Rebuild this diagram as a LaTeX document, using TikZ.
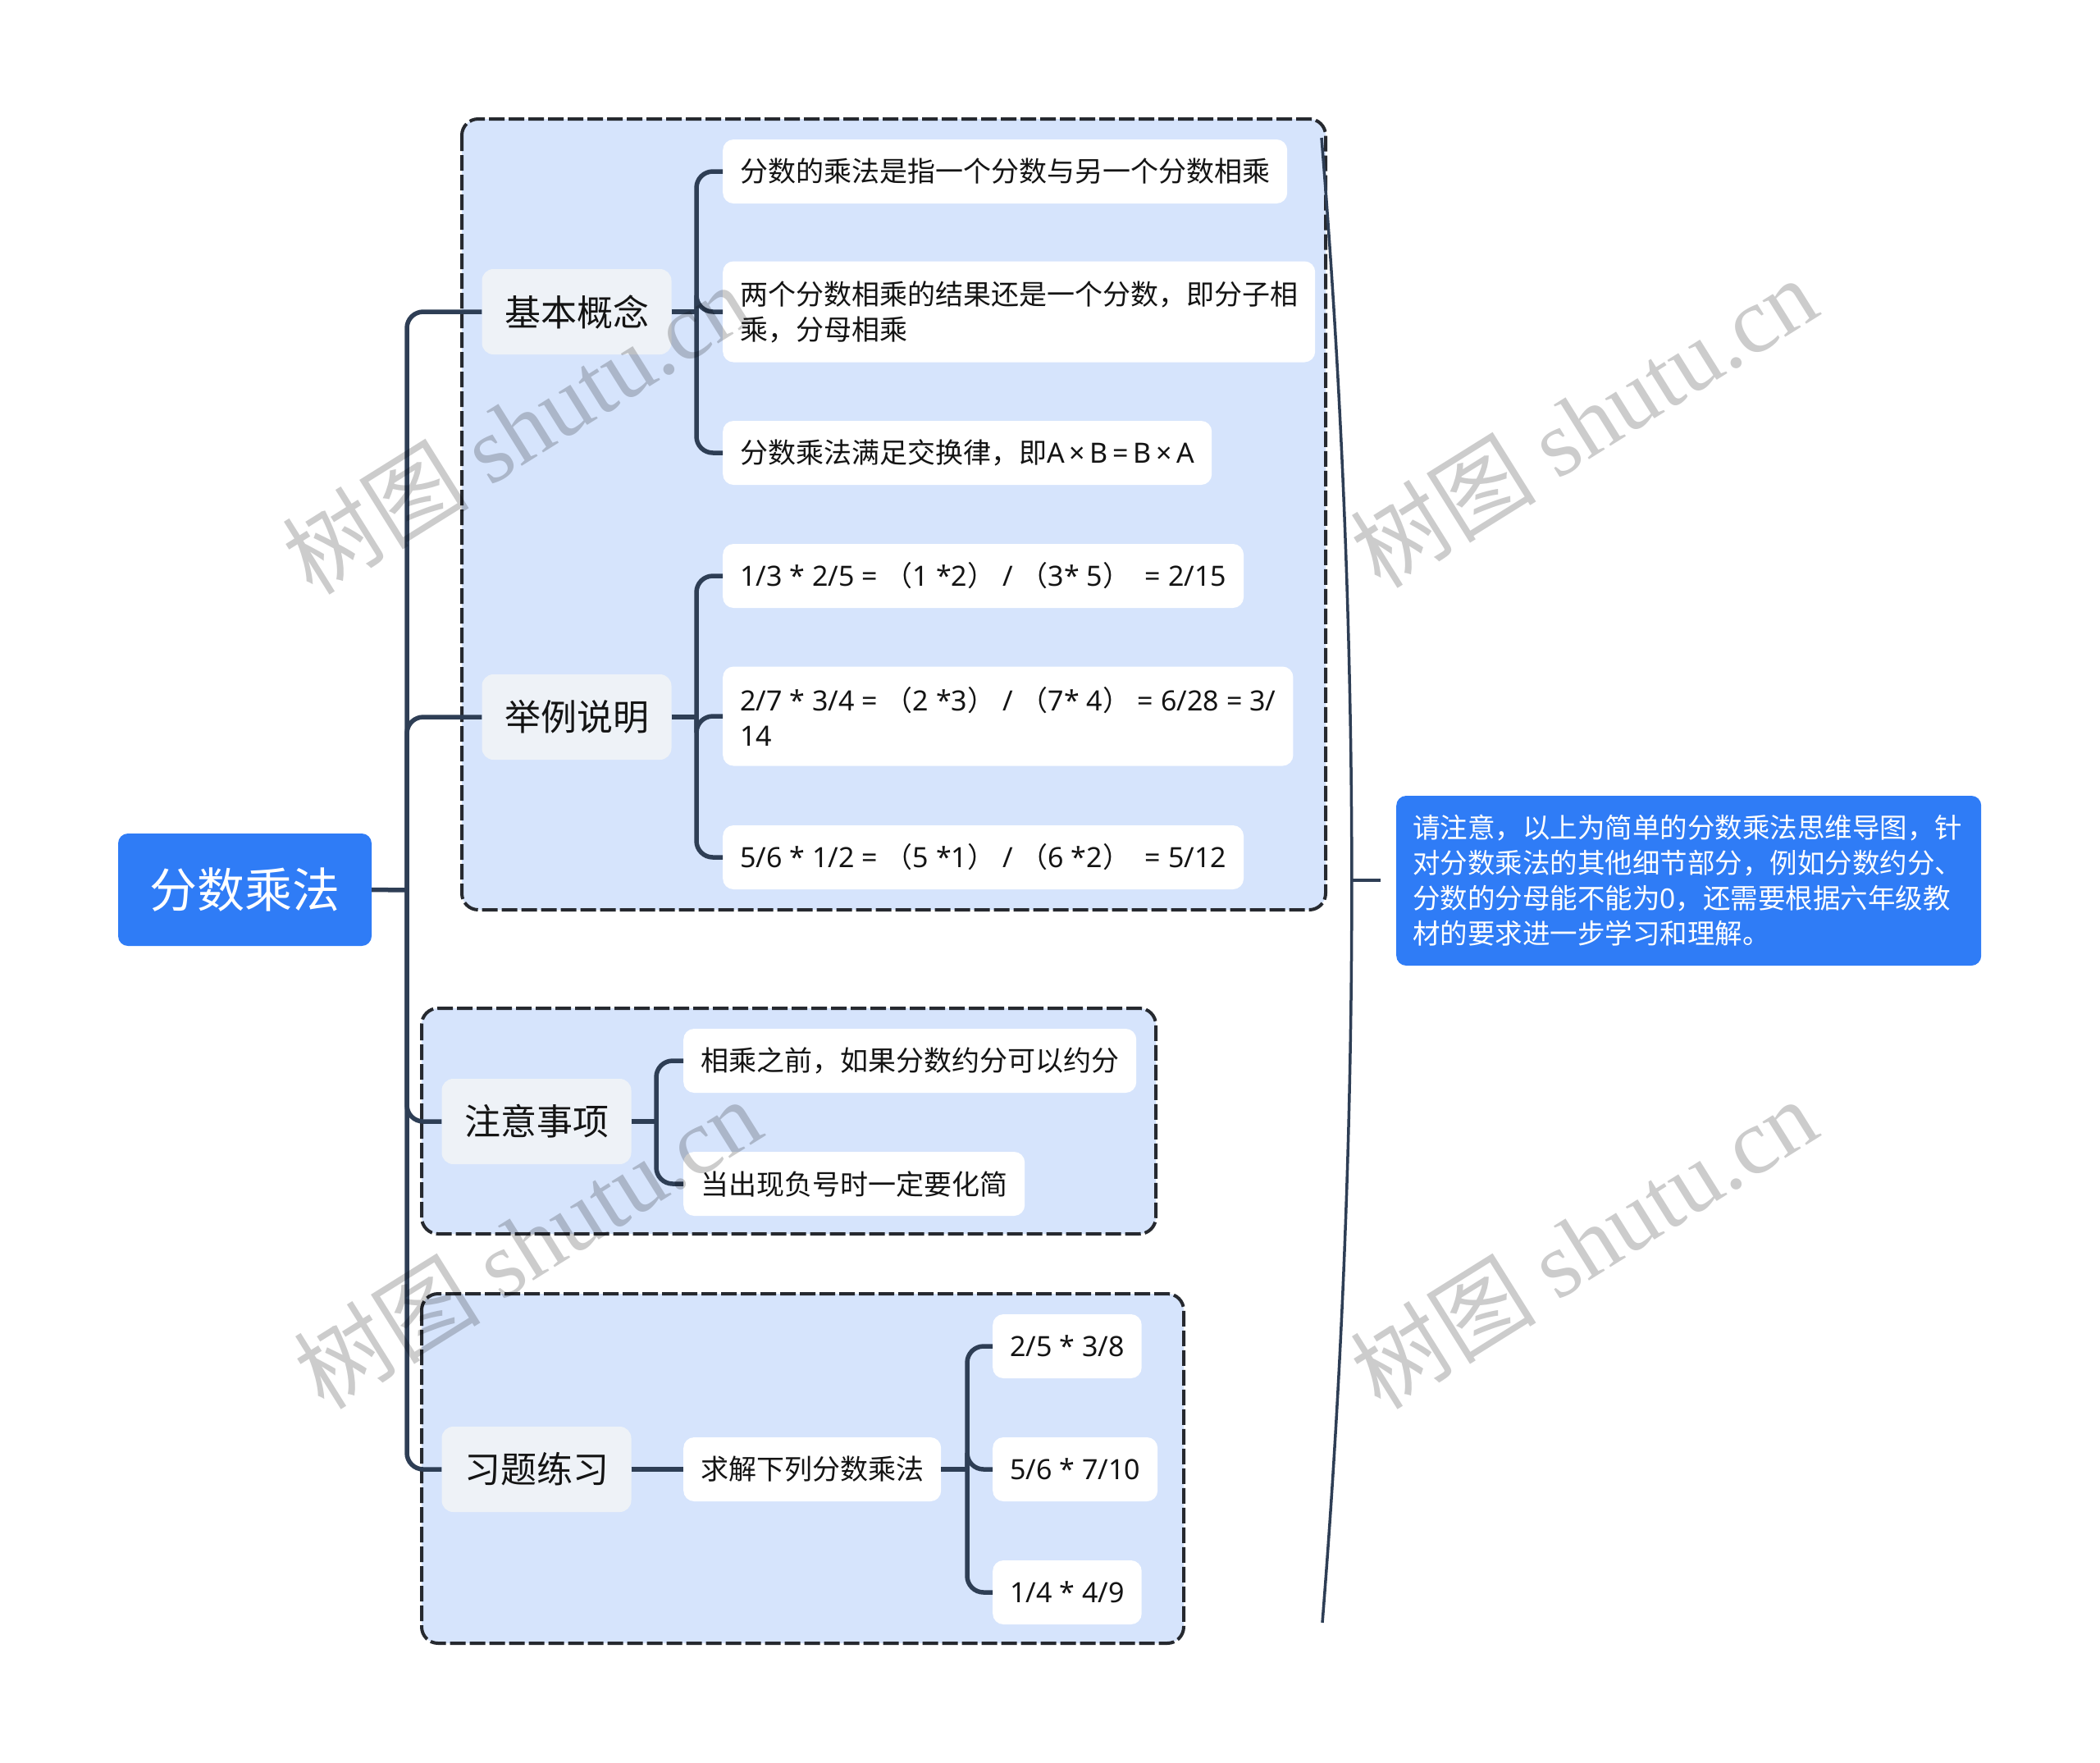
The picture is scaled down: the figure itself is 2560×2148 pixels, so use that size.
\documentclass[tikz,border=0pt]{standalone}
\usepackage{fontspec}
\setmainfont{Noto Sans CJK SC}
\newfontfamily\wmlat{Liberation Serif}
\newfontfamily\lat{Noto Sans}
\definecolor{rootblue}{RGB}{47,124,246}
\definecolor{grpfill}{RGB}{214,228,252}
\definecolor{grpborder}{RGB}{38,41,47}
\definecolor{linec}{RGB}{46,62,85}
\definecolor{topicfill}{RGB}{238,242,247}
\definecolor{txt}{RGB}{20,20,20}
\begin{document}
\begin{tikzpicture}[x=1pt,y=-1pt,
  conn/.style={draw=linec, line width=5.5pt},
  elbow/.style={conn, rounded corners=20pt},
  group/.style={draw=grpborder, fill=grpfill, line width=4pt, dash pattern=on 19pt off 5pt, rounded corners=20pt},
  leaf/.style={fill=white, rounded corners=13pt, anchor=west, align=left, inner xsep=21pt, inner ysep=0pt, minimum height=78pt, text=txt, font=\fontsize{34}{43}\selectfont},
  topic/.style={fill=topicfill, rounded corners=14pt, minimum width=231pt, minimum height=104pt, inner sep=0pt, text=txt, font=\fontsize{44}{50}\selectfont},
  rootn/.style={fill=rootblue, rounded corners=12pt, minimum width=309pt, minimum height=137pt, inner sep=0pt, text=white, font=\fontsize{58}{64}\selectfont},
  notebox/.style={fill=rootblue, rounded corners=12pt, anchor=west, align=left, text width=673pt, inner xsep=20pt, inner ysep=0pt, minimum height=207pt, text=white, font=\fontsize{33.5}{43}\selectfont},
  wm/.style={rotate=32, text=black, text opacity=0.2, inner sep=0pt}
]
\useasboundingbox (0,0) rectangle (2560,2148);
\fill[white] (0,0) rectangle (2560,2148);

% group boxes
\draw[group] (563,145) rectangle (1616,1109);
\draw[group] (514,1229) rectangle (1409,1504);
\draw[group] (514,1577) rectangle (1443,2003);

% root and topics
\node[rootn] (root) at (298.5,1084.5) {分数乘法};
\node[topic] (k1) at (703,380) {基本概念};
\node[topic] (k2) at (703,874) {举例说明};
\node[topic] (k3) at (654,1367) {注意事项};
\node[topic] (k4) at (654,1791) {习题练习};

% leaves
\node[leaf] (c1) at (881,209) {分数的乘法是指一个分数与另一个分数相乘};
\node[leaf, minimum height=123pt] (c2) at (881,380) {两个分数相乘的结果还是一个分数，即分子相\\乘，分母相乘};
\node[leaf] (c3) at (881,552) {分数乘法满足交换律，即{\lat A\,×\,B\,=\,B\,×\,A}};
\node[leaf] (e1) at (881,702) {{\lat 1/3 * 2/5 = }（{\lat 1 *2}）{\lat\ / }（{\lat 3* 5}）{\lat\ \ = 2/15}};
\node[leaf, minimum height=121pt] (e2) at (881,873) {{\lat 2/7 * 3/4 = }（{\lat 2 *3}）{\lat\ / }（{\lat 7* 4}）{\lat\ = 6/28 = 3/}\\{\lat 14}};
\node[leaf] (e3) at (881,1045) {{\lat 5/6 * 1/2 = }（{\lat 5 *1}）{\lat\ / }（{\lat 6 *2}）{\lat\ \ = 5/12}};
\node[leaf] (n1) at (833,1293) {相乘之前，如果分数约分可以约分};
\node[leaf] (n2) at (833,1443) {当出现负号时一定要化简};
\node[leaf] (q) at (833,1791) {求解下列分数乘法};
\node[leaf] (p1) at (1210,1641) {\lat 2/5 * 3/8};
\node[leaf] (p2) at (1210,1791) {\lat 5/6 * 7/10};
\node[leaf] (p3) at (1210,1941) {\lat 1/4 * 4/9};

% note
\node[notebox] (note) at (1702,1073.5) {请注意，以上为简单的分数乘法思维导图，针\\对分数乘法的其他细节部分，例如分数约分、\\分数的分母能不能为{\lat 0}，还需要根据六年级教\\材的要求进一步学习和理解。};

% junction coordinates
\coordinate (j0) at (496,1085);
\coordinate (j1) at (849,380);
\coordinate (j2) at (849,874);
\coordinate (j3) at (800,1367);
\coordinate (j4) at (1179,1791);

% connectors
\draw[conn] (root.east) -- (j0);
\draw[elbow] (j0) |- (k1.west);
\draw[elbow] (j0) |- (k2.west);
\draw[elbow] (j0) |- (k3.west);
\draw[elbow] (j0) |- (k4.west);

\draw[conn] (k1.east) -- (j1);
\draw[elbow] (j1) |- (c1.west);
\draw[elbow] (j1) |- (c2.west);
\draw[elbow] (j1) |- (c3.west);

\draw[conn] (k2.east) -- (j2);
\draw[elbow] (j2) |- (e1.west);
\draw[elbow] (j2) |- (e2.west);
\draw[elbow] (j2) |- (e3.west);

\draw[conn] (k3.east) -- (j3);
\draw[elbow] (j3) |- (n1.west);
\draw[elbow] (j3) |- (n2.west);

\draw[conn] (k4.east) -- (q.west);
\draw[conn] (q.east) -- (j4);
\draw[elbow] (j4) |- (p1.west);
\draw[elbow] (j4) |- (p2.west);
\draw[elbow] (j4) |- (p3.west);

% summary bracket
\coordinate (st) at (1611,168);
\coordinate (sb) at (1612,1978);
\coordinate (sm) at (1648,1073);
\coordinate (se) at (1683,1073);
\draw[draw=linec, line width=3.5pt] (st) .. controls (1660,770) and (1660,1375) .. (sb);
\draw[draw=linec, line width=3.5pt] (sm) -- (se);

% watermarks
\foreach \wx/\wy/\wn in {629/522/w1, 1930/514/w2, 643/1515/w3, 1930/1515/w4}{
  \node[wm] (\wn) at (\wx,\wy) {\fontsize{114}{114}\selectfont 树图 {\wmlat shutu.cn}};
}
\end{tikzpicture}
\end{document}
